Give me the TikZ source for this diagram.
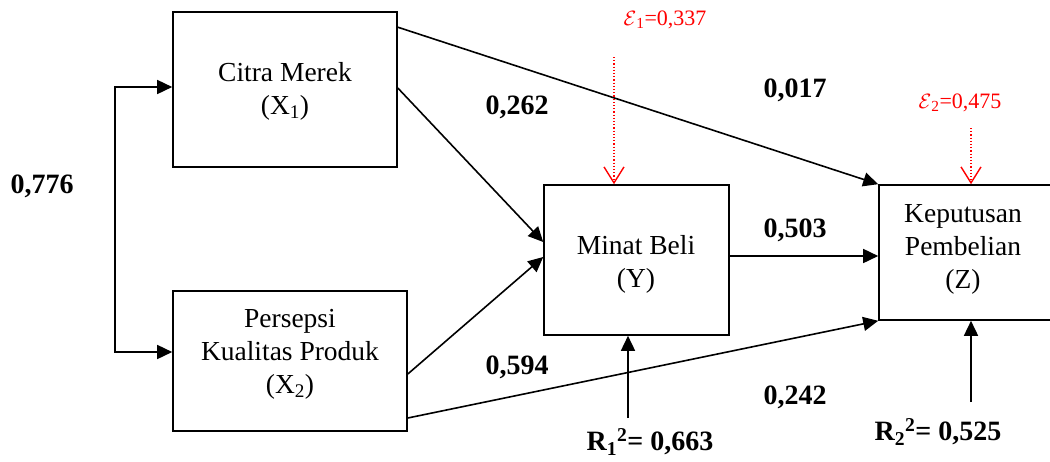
\documentclass[tikz,border=0pt]{standalone}
\usepackage{fontspec}
\setmainfont{Liberation Serif}
\usetikzlibrary{arrows.meta}
\begin{document}
\begin{tikzpicture}[x=1pt,y=-1pt,
  box/.style={draw,line width=1.6pt,rectangle,inner sep=0pt},
  txt/.style={align=center,inner sep=0pt,font=\fontsize{27.5}{33}\selectfont},
  arr/.style={line width=1.6pt,-{Triangle[length=15pt,width=14pt]}},
  coef/.style={inner sep=0pt,font=\fontsize{28}{32}\selectfont\bfseries},
  err/.style={inner sep=0pt,text=red,font=\fontsize{22}{26}\selectfont},
  errarr/.style={red,dotted,line width=1.2pt,-{Straight Barb[length=16pt,width=20pt,line width=1.4pt]}}
]
\useasboundingbox (0,0) rectangle (1050,461);
\clip (0,0) rectangle (1050,461);

% boxes
\node[box,minimum width=224pt,minimum height=155pt] (X1) at (285,89.5) {};
\node[box,minimum width=234pt,minimum height=140pt] (X2) at (290,361) {};
\node[box,minimum width=185pt,minimum height=150pt] (Y) at (636.5,260) {};
\node[box,minimum width=221pt,minimum height=135pt] (Zbox) at (989.5,252.5) {};

% box texts
\node[txt] (tX1) at (285,91) {Citra Merek\\(X\textsubscript{1})};
\node[txt] (tX2) at (290,354) {Persepsi\\Kualitas Produk\\(X\textsubscript{2})};
\node[txt] (tY) at (636,264) {Minat Beli\\(Y)};
\node[txt] (tZ) at (963,249) {Keputusan\\Pembelian\\(Z)};

% correlation between X1 and X2
\coordinate (L1) at (115,87);
\coordinate (L2) at (115,352);
\draw[line width=1.6pt,{Triangle[length=15pt,width=14pt]}-{Triangle[length=15pt,width=14pt]}]
  (L1 -| X1.west) -- (L1) -- (L2) -- (L2 -| X2.west);

% paths
\draw[arr] ([yshift=-16pt]X1.north east) -- (Zbox.north west);
\draw[arr] ([yshift=1.5pt]X1.east) -- ([yshift=18pt]Y.west);
\draw[arr] ([yshift=-13pt]X2.east) -- ([yshift=3pt]Y.west);
\draw[arr] ([yshift=-57pt]X2.east) -- (Zbox.south west);
\coordinate (yz) at ([yshift=4pt]Y.east);
\draw[arr] (yz) -- (yz -| Zbox.west);

% coefficients
\node[coef] (c776) at (42,186) {0,776};
\node[coef] (c262) at (517,107) {0,262};
\node[coef] (c017) at (795,90) {0,017};
\node[coef] (c503) at (795,230) {0,503};
\node[coef] (c594) at (517,367) {0,594};
\node[coef] (c242) at (795,397) {0,242};

% errors
\node[err] (e1) at (665,20) {$\mathcal{E}$\textsubscript{1}=0,337};
\node[err] (e2) at (960,103) {$\mathcal{E}$\textsubscript{2}=0,475};
\coordinate (e1s) at (614,57);
\coordinate (e2s) at (971,128);
\draw[errarr] (e1s) -- (e1s |- Y.north);
\draw[errarr] (e2s) -- (e2s |- Zbox.north);

% R squared
\node[coef] (r1) at (650,442) {R\textsubscript{1}\textsuperscript{2}= 0,663};
\node[coef] (r2) at (938,432) {R\textsubscript{2}\textsuperscript{2}= 0,525};
\coordinate (r1s) at (628,418);
\coordinate (r2s) at (971,402);
\draw[arr] (r1s) -- (r1s |- Y.south);
\draw[arr] (r2s) -- (r2s |- Zbox.south);
\end{tikzpicture}
\end{document}
